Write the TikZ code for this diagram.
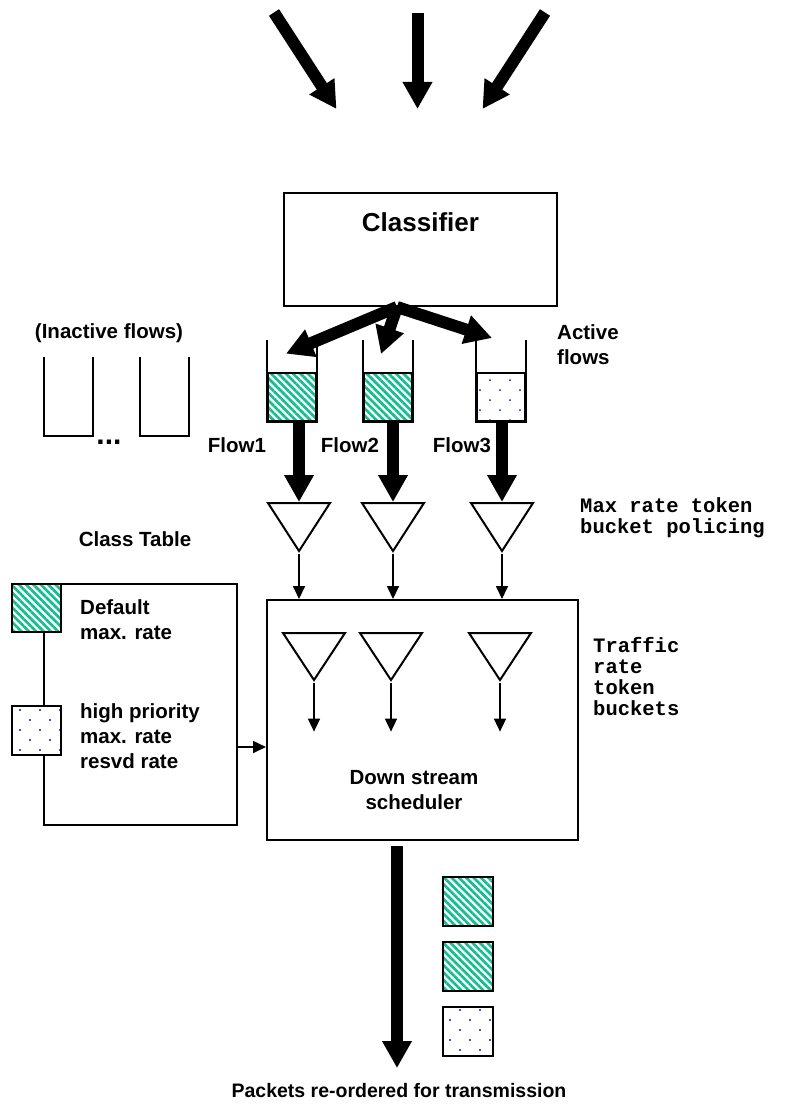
\documentclass[tikz,border=0pt]{standalone}
\usepackage{fontspec}
\setmainfont{Liberation Sans}
\setmonofont{Liberation Mono}
\usepackage{xcolor}
\usepackage{tikz}
\usetikzlibrary{shapes.geometric, arrows.meta, positioning, patterns.meta}

\definecolor{flowgreen}{RGB}{20,190,145}
\definecolor{dotblue}{RGB}{70,70,255}

\begin{document}
\begin{tikzpicture}[
    x=1pt, y=-1pt,
    lbl/.style={font=\fontsize{20.5}{25}\selectfont\bfseries, inner sep=0pt, align=left},
    mono/.style={font=\fontsize{20.5}{21}\selectfont\ttfamily\bfseries, inner sep=0pt, align=left},
    block/.style={rectangle, draw=black, line width=2pt, inner sep=0pt},
    cup/.style={line width=2pt, line join=miter},
    stripebox/.style={rectangle, draw=black, line width=2pt, inner sep=0pt, preaction={fill=white}, pattern={Lines[angle=-45, distance=5.2pt, line width=2.7pt]}, pattern color=flowgreen},
    dotbox/.style={rectangle, draw=black, line width=2pt, inner sep=0pt, preaction={fill=white}, pattern={Dots[angle=45, distance=14.14pt, radius=1.2pt]}, pattern color=dotblue},
    bucket/.style={isosceles triangle, isosceles triangle stretches, shape border rotate=-90, draw=black, line width=2pt, minimum width=62pt, minimum height=48pt, inner sep=0pt, anchor=north},
    fatarrow/.style={-{Triangle[width=28pt, length=27pt]}, line width=12pt},
    thinarrow/.style={-{Triangle[width=12pt, length=13pt]}, line width=1.7pt}
]
\useasboundingbox (0,0) rectangle (785,1110);

% incoming traffic
\coordinate (in1s) at (274,12.5);
\coordinate (in1t) at (336.5,109);
\coordinate (in2s) at (417.5,13);
\coordinate (in2t) at (417.5,109);
\coordinate (in3s) at (545,12.5);
\coordinate (in3t) at (482.5,109);
\draw [fatarrow] (in1s) -- (in1t);
\draw [fatarrow] (in2s) -- (in2t);
\draw [fatarrow] (in3s) -- (in3t);

% classifier
\node (classifier) [block, minimum width=273pt, minimum height=113pt] at (420.5,249.5) {};
\node (cltext) [font=\fontsize{26}{30}\selectfont\bfseries] at (420.5,222) {Classifier};

% inactive queues
\node (inactive) [lbl] at (109,333) {(Inactive flows)};
\node (iq1) [minimum width=49pt, minimum height=79pt, inner sep=0pt] at (68.5,396.5) {};
\node (iq2) [minimum width=49pt, minimum height=79pt, inner sep=0pt] at (164.5,396.5) {};
\draw [cup] (iq1.north west) -- (iq1.south west) -- (iq1.south east) -- (iq1.north east);
\draw [cup] (iq2.north west) -- (iq2.south west) -- (iq2.south east) -- (iq2.north east);
\node (more) [lbl, font=\fontsize{30}{30}\selectfont\bfseries] at (109,442.5) {...};

% active queues
\node (q1) [stripebox, minimum width=48pt, minimum height=48pt] at (292,397) {};
\node (q2) [stripebox, minimum width=48pt, minimum height=48pt] at (388,397) {};
\node (q3) [dotbox, minimum width=48pt, minimum height=48pt] at (501,397) {};
\draw [cup] ([yshift=32pt]q1.north west) -- (q1.south west) -- (q1.south east) -- ([yshift=32pt]q1.north east);
\draw [cup] ([yshift=32pt]q2.north west) -- (q2.south west) -- (q2.south east) -- ([yshift=32pt]q2.north east);
\draw [cup] ([yshift=32pt]q3.north west) -- (q3.south west) -- (q3.south east) -- ([yshift=32pt]q3.north east);
\node (active) [lbl, anchor=west] at (557,345) {Active\\flows};

\draw [fatarrow] ([xshift=-23.5pt]classifier.south) -- ([shift={(-6,-18)}]q1.north);
\draw [fatarrow] ([xshift=-23.5pt]classifier.south) -- ([shift={(-7,-18)}]q2.north);
\draw [fatarrow] ([xshift=-23.5pt]classifier.south) -- ([shift={(-9,-34)}]q3.north);

\node (f1) [lbl] at (237,445) {Flow1};
\node (f2) [lbl] at (350,445) {Flow2};
\node (f3) [lbl] at (462,445) {Flow3};

% max rate policing
\node (t1) [bucket] at (299,502) {};
\node (t2) [bucket] at (393,502) {};
\node (t3) [bucket] at (502,502) {};
\draw [fatarrow] (q1.south -| t1.north) -- (t1.north);
\draw [fatarrow] (q2.south -| t2.north) -- (t2.north);
\draw [fatarrow] (q3.south -| t3.north) -- (t3.north);
\node (maxrate) [mono, anchor=west] at (580,518) {Max rate token\\bucket policing};

% scheduler
\node (sched) [block, minimum width=311pt, minimum height=240pt] at (422.5,720) {};
\draw [thinarrow] (t1.apex) -- (t1.apex |- sched.north);
\draw [thinarrow] (t2.apex) -- (t2.apex |- sched.north);
\draw [thinarrow] (t3.apex) -- (t3.apex |- sched.north);
\node (u1) [bucket, minimum height=47pt] at (314,632) {};
\node (u2) [bucket, minimum height=47pt] at (391,632) {};
\node (u3) [bucket, minimum height=47pt] at (500,632) {};
\draw [thinarrow] (u1.apex) -- ([yshift=-49pt]u1.apex);
\draw [thinarrow] (u2.apex) -- ([yshift=-49pt]u2.apex);
\draw [thinarrow] (u3.apex) -- ([yshift=-49pt]u3.apex);
\node (schedtext) [lbl, align=center] at (414,790) {Down stream\\scheduler};
\node (traffic) [mono, anchor=west] at (593,677) {Traffic\\rate\\token\\buckets};

% class table
\node (cttitle) [lbl] at (135,539) {Class Table};
\node (ctable) [block, minimum width=193pt, minimum height=241pt] at (140.5,704.5) {};
\node (c1) [stripebox, minimum width=49pt, minimum height=48pt] at (36.5,608) {};
\node (c2) [dotbox, minimum width=49pt, minimum height=49pt] at (36.5,730.5) {};
\node (deftxt) [lbl, anchor=west] at (80,620) {Default\\max. rate};
\node (hightxt) [lbl, anchor=west] at (80,736) {high priority\\max. rate\\resvd rate};
\draw [thinarrow] ([yshift=-42.5pt]ctable.east) -- ([yshift=-42.5pt]ctable.east -| sched.west);

% output
\coordinate (outtip) at (397,1068);
\draw [fatarrow] ([xshift=-25.5pt,yshift=-5pt]sched.south) -- (outtip);
\node (p1) [stripebox, minimum width=50pt, minimum height=49pt] at (468,901.5) {};
\node (p2) [stripebox, minimum width=50pt, minimum height=49pt] at (468,966.5) {};
\node (p3) [dotbox, minimum width=50pt, minimum height=49pt] at (468,1031.5) {};
\node (outtxt) [lbl, font=\fontsize{19.5}{23}\selectfont\bfseries] at (399,1091) {Packets re-ordered for transmission};
\end{tikzpicture}
\end{document}
